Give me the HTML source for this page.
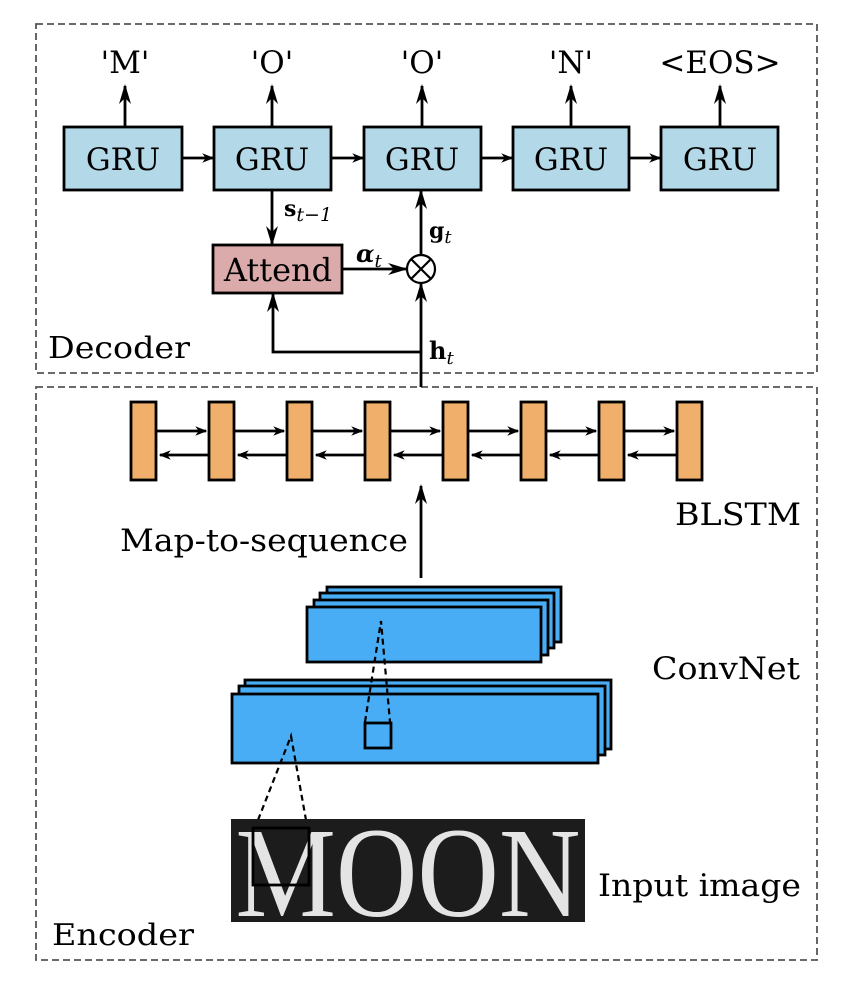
<!DOCTYPE html>
<html><head><meta charset="utf-8"><style>
body{margin:0;background:#fff}
svg{display:block}
text{font-family:"DejaVu Serif","Liberation Serif",serif;fill:#000}
</style></head><body>
<svg width="858" height="984" viewBox="0 0 858 984" xmlns="http://www.w3.org/2000/svg">
<defs>
<marker id="a" viewBox="0 0 10 10" refX="9" refY="5" markerWidth="12" markerHeight="12" markerUnits="userSpaceOnUse" orient="auto"><path d="M0,1 L10,5 L0,9 L3,5z" fill="#000"/></marker>
<marker id="b" viewBox="0 0 10 10" refX="9" refY="5" markerWidth="20" markerHeight="20" markerUnits="userSpaceOnUse" orient="auto"><path d="M0,2 L10,5 L0,8 L3,5z" fill="#000"/></marker>
</defs>
<rect x="36" y="24" width="781" height="349" fill="none" stroke="#555" stroke-width="1.8" stroke-dasharray="7,4"/>
<rect x="36" y="387" width="781" height="573" fill="none" stroke="#555" stroke-width="1.8" stroke-dasharray="7,4"/>
<g stroke="#000" stroke-width="2.8" fill="#b3d8e7">
<rect x="64" y="127" width="118" height="63"/>
<rect x="214" y="127" width="117" height="63"/>
<rect x="364" y="127" width="117" height="63"/>
<rect x="513" y="127" width="116" height="63"/>
<rect x="661" y="127" width="117" height="63"/>
</g>
<g font-size="31" text-anchor="middle">
<text x="123" y="170">GRU</text><text x="272" y="170">GRU</text><text x="422" y="170">GRU</text><text x="571" y="170">GRU</text><text x="720" y="170">GRU</text>
<text x="125" y="73">'M'</text><text x="272" y="73">'O'</text><text x="422" y="73">'O'</text><text x="571" y="73">'N'</text><text x="720" y="73">&lt;EOS&gt;</text>
</g>
<g stroke="#000" stroke-width="2.8" fill="none">
<line x1="125" y1="127" x2="125" y2="86" marker-end="url(#b)"/>
<line x1="272" y1="127" x2="272" y2="86" marker-end="url(#b)"/>
<line x1="422" y1="127" x2="422" y2="86" marker-end="url(#b)"/>
<line x1="571" y1="127" x2="571" y2="86" marker-end="url(#b)"/>
<line x1="720" y1="127" x2="720" y2="86" marker-end="url(#b)"/>
<line x1="182" y1="158" x2="213" y2="158" marker-end="url(#a)"/>
<line x1="331" y1="158" x2="363" y2="158" marker-end="url(#a)"/>
<line x1="481" y1="158" x2="512" y2="158" marker-end="url(#a)"/>
<line x1="629" y1="158" x2="660" y2="158" marker-end="url(#a)"/>
<line x1="272" y1="190" x2="272" y2="244" marker-end="url(#b)"/>
<line x1="342" y1="269" x2="406" y2="269" marker-end="url(#b)"/>
<line x1="421" y1="255" x2="421" y2="191" marker-end="url(#b)"/>
<line x1="421" y1="387" x2="421" y2="284" marker-end="url(#b)"/>
<polyline points="421,352 273,352 273,294" marker-end="url(#b)"/>
<line x1="421" y1="578" x2="421" y2="486" marker-end="url(#b)"/>
</g>
<rect x="213" y="245" width="129" height="48" fill="#dbaaaa" stroke="#000" stroke-width="2.8"/>
<text x="278" y="281" font-size="32" text-anchor="middle">Attend</text>
<circle cx="421" cy="269" r="14" fill="#fff" stroke="#000" stroke-width="2.2"/>
<path d="M411,259 L431,279 M431,259 L411,279" stroke="#000" stroke-width="2.2"/>
<text x="284" y="216" font-size="22" font-weight="bold">s<tspan font-size="19" font-style="italic" font-weight="normal" dy="5">t−1</tspan></text>
<text x="356" y="262" font-size="24" font-weight="bold" font-style="italic">α<tspan font-size="18" font-weight="normal" dy="5">t</tspan></text>
<text x="429" y="238" font-size="22" font-weight="bold">g<tspan font-size="18" font-style="italic" font-weight="normal" dy="5">t</tspan></text>
<text x="429" y="359" font-size="24" font-weight="bold">h<tspan font-size="18" font-style="italic" font-weight="normal" dy="5">t</tspan></text>
<text x="48" y="358" font-size="30" textLength="142" lengthAdjust="spacingAndGlyphs">Decoder</text>
<text x="52" y="945" font-size="30" textLength="142" lengthAdjust="spacingAndGlyphs">Encoder</text>
<g stroke="#000" stroke-width="2.8" fill="#f0b06c">
<rect x="131" y="402" width="25" height="78"/><rect x="209" y="402" width="25" height="78"/>
<rect x="287" y="402" width="25" height="78"/><rect x="365" y="402" width="25" height="78"/>
<rect x="443" y="402" width="25" height="78"/><rect x="521" y="402" width="25" height="78"/>
<rect x="599" y="402" width="25" height="78"/><rect x="677" y="402" width="25" height="78"/>
</g>
<g stroke="#000" stroke-width="2.8">
<line x1="156" y1="431" x2="206" y2="431" marker-end="url(#a)"/><line x1="209" y1="455" x2="160" y2="455" marker-end="url(#a)"/>
<line x1="234" y1="431" x2="284" y2="431" marker-end="url(#a)"/><line x1="287" y1="455" x2="238" y2="455" marker-end="url(#a)"/>
<line x1="312" y1="431" x2="362" y2="431" marker-end="url(#a)"/><line x1="365" y1="455" x2="316" y2="455" marker-end="url(#a)"/>
<line x1="390" y1="431" x2="440" y2="431" marker-end="url(#a)"/><line x1="443" y1="455" x2="394" y2="455" marker-end="url(#a)"/>
<line x1="468" y1="431" x2="518" y2="431" marker-end="url(#a)"/><line x1="521" y1="455" x2="472" y2="455" marker-end="url(#a)"/>
<line x1="546" y1="431" x2="596" y2="431" marker-end="url(#a)"/><line x1="599" y1="455" x2="550" y2="455" marker-end="url(#a)"/>
<line x1="624" y1="431" x2="674" y2="431" marker-end="url(#a)"/><line x1="677" y1="455" x2="628" y2="455" marker-end="url(#a)"/>
</g>
<text x="675" y="525" font-size="31" textLength="126" lengthAdjust="spacingAndGlyphs">BLSTM</text>
<text x="120" y="551" font-size="31" textLength="288" lengthAdjust="spacingAndGlyphs">Map-to-sequence</text>
<text x="652" y="679" font-size="31" textLength="148" lengthAdjust="spacingAndGlyphs">ConvNet</text>
<text x="598" y="896" font-size="31" textLength="203" lengthAdjust="spacingAndGlyphs">Input image</text>
<g stroke="#000" stroke-width="2.8" fill="#48adf5">
<rect x="327" y="587" width="234" height="55"/>
<rect x="320" y="593" width="234" height="55"/>
<rect x="314" y="600" width="234" height="55"/>
<rect x="307" y="607" width="234" height="55"/>
<rect x="245" y="680" width="366" height="69"/>
<rect x="239" y="686" width="366" height="69"/>
<rect x="232" y="694" width="366" height="69"/>
</g>
<rect x="365" y="723" width="26" height="25" fill="none" stroke="#000" stroke-width="2.8"/>
<g stroke="#000" stroke-width="2.2" stroke-dasharray="6,4" fill="none">
<path d="M365,722 L381,621 L390,722"/>
<path d="M258,820 L291,736 L306,820"/>
</g>
<rect x="231" y="819" width="354" height="103" fill="#1c1c1c"/>
<text x="408" y="916" font-size="128" text-anchor="middle" textLength="345" lengthAdjust="spacingAndGlyphs" style="font-family:'Liberation Serif',serif;fill:#e4e4e4">MOON</text>
<rect x="253" y="828" width="56" height="57" fill="none" stroke="#000" stroke-width="2.8"/>
</svg>
</body></html>
